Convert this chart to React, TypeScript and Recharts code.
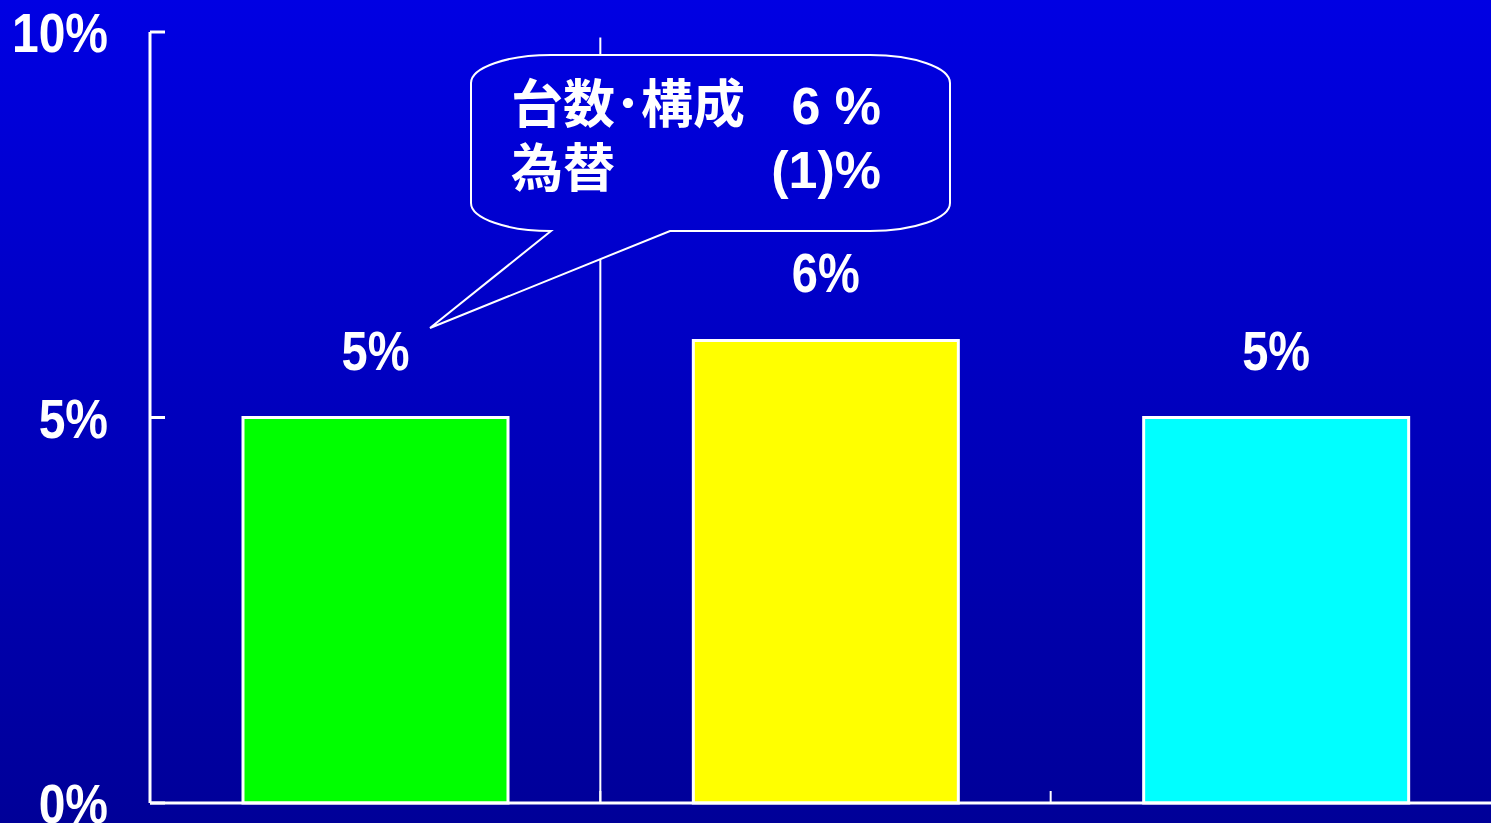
import React from 'react';
import { BarChart, Bar, XAxis, YAxis, Cell, LabelList, ReferenceLine } from 'recharts';

const categories = ['left', 'middle', 'right'];
const values = [5, 6, 5];
const barColors = ['#00FF00', '#FFFF00', '#00FFFF'];
const yTicks = [0, 5, 10];
const xBoundaryTicks = [1, 2];
const calloutLine1Label = '台数･構成';
const calloutLine1Value = '6 %';
const calloutLine2Label = '為替';
const calloutLine2Value = '(1)%';

const data = categories.map((c, i) => ({ name: c, pos: i + 0.5, value: values[i] }));

const W = 1491;
const H = 823;
const TOP = '#0000E3';
const BOTTOM = '#000098';
const LATIN = '"Liberation Sans", Arial, sans-serif';
const CJK = '"Noto Sans CJK JP", "Liberation Sans", sans-serif';

const YTick = (props: any) => {
  const { x, y, payload } = props;
  return (
    <g>
      <line x1={x} x2={x + 15} y1={y} y2={y} stroke="#fff" strokeWidth={3} />
      <text
        transform={`translate(${x - 42},${y + 20}) scale(1,1.17)`}
        textAnchor="end"
        fill="#fff"
        fontSize={48}
        fontWeight="bold"
        fontFamily={LATIN}
      >
        {payload.value}%
      </text>
    </g>
  );
};

const BarLabel = (props: any) => {
  const { x, y, width, value } = props;
  return (
    <text
      transform={`translate(${x + width / 2},${y - 48}) scale(1,1.18)`}
      textAnchor="middle"
      fill="#fff"
      fontSize={47}
      fontWeight="bold"
      fontFamily={LATIN}
    >
      {value}%
    </text>
  );
};

export default function App() {
  return (
    <div
      style={{
        position: 'absolute',
        left: 0,
        top: 0,
        width: W,
        height: H,
        background: `linear-gradient(to bottom, ${TOP}, ${BOTTOM})`,
        overflow: 'hidden',
      }}
    >
      <BarChart width={W} height={H} data={data} margin={{ top: 32, right: -10, bottom: 20, left: 0 }}>
        <XAxis
          type="number"
          dataKey="pos"
          domain={[0, 3]}
          ticks={xBoundaryTicks}
          mirror
          height={20}
          tickSize={12}
          tickFormatter={() => ''}
          axisLine={{ stroke: '#fff', strokeWidth: 3 }}
          tickLine={{ stroke: '#fff', strokeWidth: 2 }}
        />
        <YAxis
          domain={[0, 10]}
          ticks={yTicks}
          width={150}
          tickSize={0}
          tickMargin={0}
          tickLine={false}
          axisLine={{ stroke: '#fff', strokeWidth: 3 }}
          tick={<YTick />}
          interval={0}
        />
        <ReferenceLine
          segment={[
            { x: 1, y: 0 },
            { x: 1, y: 9.93 },
          ]}
          stroke="#fff"
          strokeWidth={2}
        />
        <Bar dataKey="value" barSize={265} isAnimationActive={false} stroke="#fff" strokeWidth={3}>
          {data.map((d, i) => (
            <Cell key={d.name} fill={barColors[i]} />
          ))}
          <LabelList dataKey="value" content={<BarLabel />} />
        </Bar>
      </BarChart>
      <svg width={W} height={H} style={{ position: 'absolute', left: 0, top: 0, pointerEvents: 'none' }}>
        <defs>
          <linearGradient id="bubbleBg" gradientUnits="userSpaceOnUse" x1="0" y1="0" x2="0" y2={H}>
            <stop offset="0" stopColor={TOP} />
            <stop offset="1" stopColor={BOTTOM} />
          </linearGradient>
        </defs>
        <path
          d="M 551 231 L 430 328 L 670 231 L 870 231 A 80 28 0 0 0 950 203 L 950 83 A 80 28 0 0 0 870 55 L 551 55 A 80 28 0 0 0 471 83 L 471 203 A 80 28 0 0 0 551 231 Z"
          fill="url(#bubbleBg)"
          stroke="#fff"
          strokeWidth={2}
        />
        <text x={511} y={123} fill="#fff" fontSize={52} fontWeight="bold" fontFamily={CJK}>
          {calloutLine1Label}
        </text>
        <text x={881} y={124} fill="#fff" fontSize={52} fontWeight="bold" fontFamily={LATIN} textAnchor="end">
          {calloutLine1Value}
        </text>
        <text x={511} y={187} fill="#fff" fontSize={52} fontWeight="bold" fontFamily={CJK}>
          {calloutLine2Label}
        </text>
        <text x={881} y={188} fill="#fff" fontSize={52} fontWeight="bold" fontFamily={LATIN} textAnchor="end">
          {calloutLine2Value}
        </text>
      </svg>
    </div>
  );
}
